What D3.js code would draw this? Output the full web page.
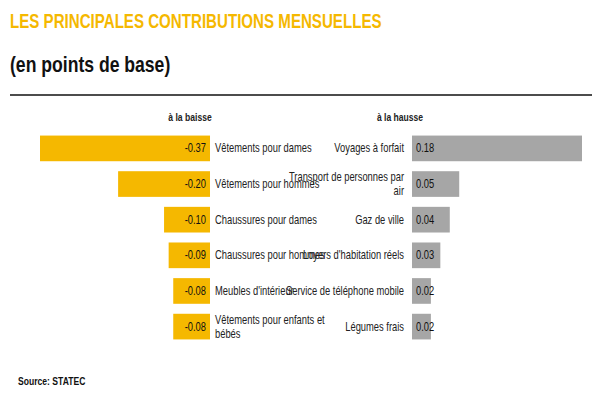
<!DOCTYPE html>
<html><head><meta charset="utf-8">
<script src="https://cdn.jsdelivr.net/npm/d3@7"></script>
<style>
body{margin:0;background:#fff;}
text{font-family:"Liberation Sans",Arial,sans-serif;}
</style></head><body>
<svg width="600" height="400"></svg>
<script>
const downCats = ["Vêtements pour dames", "Vêtements pour hommes", "Chaussures pour dames",
  "Chaussures pour hommes", "Meubles d'intérieur", "Vêtements pour enfants et|bébés"];
const downVals = [-0.37, -0.20, -0.10, -0.09, -0.08, -0.08];
const upCats = ["Voyages à forfait", "Transport de personnes par|air", "Gaz de ville",
  "Loyers d'habitation réels", "Service de téléphone mobile", "Légumes frais"];
const upVals = [0.18, 0.05, 0.04, 0.03, 0.02, 0.02];

const svg = d3.select("svg");
const orange = "#F5B800", grey = "#A6A6A6";

// condensed text: squeeze horizontally around the anchor point
function txt(x, yy, str, size, opts = {}) {
  const g = svg.append("g").attr("transform", `translate(${x},${yy}) scale(${opts.sx || 0.78},1)`);
  return g.append("text").attr("text-anchor", opts.anchor || "start")
    .attr("font-size", size).attr("font-weight", opts.bold ? "bold" : null)
    .attr("fill", opts.fill || "#222").text(str);
}

txt(10, 28, "LES PRINCIPALES CONTRIBUTIONS MENSUELLES", 21, {bold: true, fill: orange, sx: 0.72});
txt(10, 72, "(en points de base)", 22, {bold: true, fill: "#111", sx: 0.8});
svg.append("line").attr("x1", 10).attr("x2", 592).attr("y1", 95).attr("y2", 95)
  .attr("stroke", "#111").attr("stroke-width", 1.5);

const y = d3.scaleBand().domain(d3.range(6)).range([132, 343]).paddingInner(0.28).paddingOuter(0.1);
const xl = d3.scaleLinear().domain([-0.37, 0]).range([40, 210]);
const xr = d3.scaleLinear().domain([0, 0.18]).range([412, 582]);

txt(190, 121, "à la baisse", 11, {bold: true, anchor: "middle"});
txt(400, 121, "à la hausse", 11, {bold: true, anchor: "middle"});

function label(x, yc, str, anchor) {
  const lines = str.split("|");
  lines.forEach((l, i) => txt(x, yc + 4 + (i - (lines.length - 1) / 2) * 14, l, 12, {anchor}));
}

svg.append("g").selectAll("rect").data(downVals).join("rect")
  .attr("x", d => xl(d)).attr("width", d => xl(0) - xl(d))
  .attr("y", (d, i) => y(i)).attr("height", y.bandwidth()).attr("fill", orange);
downVals.forEach((v, i) => {
  const yc = y(i) + y.bandwidth() / 2;
  txt(xl(0) - 4, yc + 4, v.toFixed(2), 12, {anchor: "end", fill: "#111"});
  label(215, yc, downCats[i], "start");
});

svg.append("g").selectAll("rect").data(upVals).join("rect")
  .attr("x", xr(0)).attr("width", d => xr(d) - xr(0))
  .attr("y", (d, i) => y(i)).attr("height", y.bandwidth()).attr("fill", grey);
upVals.forEach((v, i) => {
  const yc = y(i) + y.bandwidth() / 2;
  txt(xr(0) + 4, yc + 4, v.toFixed(2), 12, {fill: "#111"});
  label(404, yc, upCats[i], "end");
});

txt(18, 385, "Source: STATEC", 11, {bold: true, fill: "#111"});
</script></body></html>
